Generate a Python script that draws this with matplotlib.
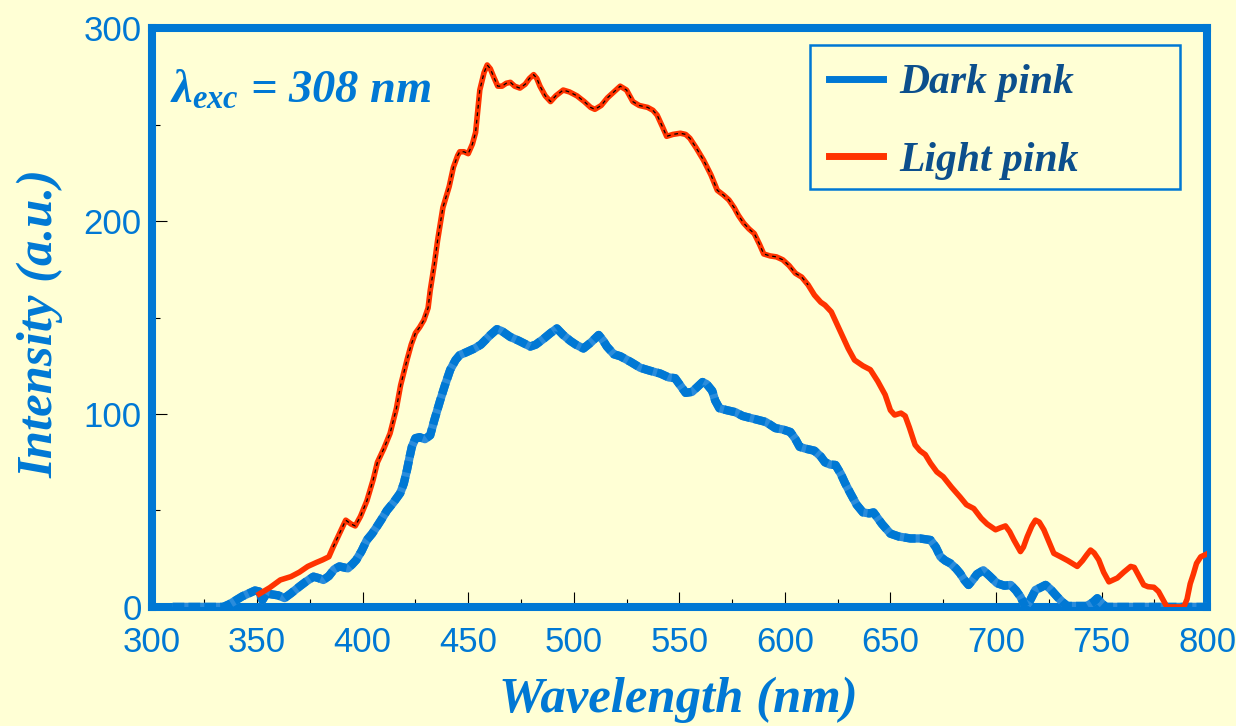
import numpy as np
import matplotlib.pyplot as plt
from matplotlib.patches import Rectangle
from matplotlib.ticker import MultipleLocator

# ---------------- data ----------------
light_x = [351, 356, 361, 366, 370, 374, 378, 381, 384, 386, 389, 392, 394.5, 396.5, 399,
           402, 405, 407, 410, 413, 416, 418, 421, 423, 425, 427, 429, 431, 432, 434,
           435.5, 438, 441, 443, 445, 446, 448, 450, 452, 453.5, 455.5, 457.5, 459, 460.5, 462,
           464, 466, 468, 470, 472, 474.5, 477, 479, 481, 482.5, 484, 486.5, 489, 491.5, 495,
           498, 501.5, 505, 508, 510, 513, 516, 519, 522, 525, 528, 531, 535, 537.5, 539.5,
           542, 544, 547, 550.5, 553, 555, 558, 561.5, 565, 568, 571, 573.5, 576, 578, 580.5,
           583, 585.5, 588, 590, 593, 596, 599, 602, 605, 608, 611, 614, 617, 619, 622,
           626, 630, 633, 637, 640.5, 644, 647.5, 650, 652, 655, 657, 659, 661.7, 664, 666.5,
           669, 672, 675, 679, 683, 686, 689.5, 693, 695.8, 699.8, 702, 704.5, 706.5, 708.5, 711.6,
           713, 714.8, 717, 718.7, 720.5, 722.7, 725, 727.4, 730.6, 734, 738.5, 741, 743, 744.8, 746.5,
           748.7, 751, 753.5, 757.5, 760.5, 763.8, 765.5, 767, 770, 772, 774.8, 777, 779, 781, 785,
           789, 790.5, 792, 793.5, 795, 797, 799, 800]
light_y = [6.7, 10, 14, 15.7, 18, 21, 23, 24.4, 26, 31, 38, 45, 43, 42, 47,
           55, 66, 75, 82, 90, 103, 115, 128, 136, 142, 145, 148.7, 155, 164, 178,
           190, 207, 218, 228, 234, 236, 236, 235, 240, 246, 268, 277, 281, 279, 275,
           270, 270, 271.5, 272, 270, 269, 271, 274, 276, 274, 270, 265, 262, 265, 268,
           267, 265, 262, 259, 258, 260, 264, 267, 270, 268, 262, 260, 259, 257.5, 255,
           249, 244, 245, 245.6, 245, 243, 238, 231.6, 224, 216, 213.5, 211, 207, 203, 199,
           196, 193.6, 188, 183, 182, 181.5, 180, 177, 173, 171, 167, 161.7, 158, 156.5, 153,
           143.5, 134, 128, 125, 123, 117, 110, 102, 99.5, 100.5, 99, 93, 84, 81, 79,
           74.5, 70, 67.5, 62, 57, 53, 51, 46, 43, 40, 41, 42, 39, 34.7, 28.7,
           31, 36.4, 42, 45, 44, 40, 34, 27.8, 26, 24, 21, 24, 27, 29.5, 28,
           24.4, 18, 13, 15, 18, 21, 20.5, 17.5, 11.4, 10.5, 10.2, 8, 4, 0, 0,
           0, 4, 12, 17, 22.6, 26, 27, 27.5]

dark_x = [310, 315, 320, 325, 330, 334, 337, 340, 343, 346, 349, 351, 352.5, 354.5, 357,
          360, 363, 366, 370, 373, 376.7, 379, 381.4, 384, 386.5, 389, 391, 393, 395, 397,
          399.5, 402, 404.5, 406.7, 409, 411.5, 414.5, 417.8, 419.5, 421, 422.3, 423.3, 425, 427, 429.5,
          432, 434, 436.7, 439, 441.5, 444, 446, 449, 453, 456, 460.5, 463.6, 466, 469.9, 474,
          479.4, 482, 485.7, 489, 492, 495, 498.3, 501, 504.6, 508, 511.8, 514, 515.7, 519, 522,
          527, 531.5, 536, 541, 545, 548, 551, 553, 556, 558, 561, 563, 565.6, 567, 569,
          572.5, 576.5, 580, 583.6, 587, 590.7, 593, 595.5, 599, 602.6, 605, 607, 610, 614, 617,
          619, 621.5, 624, 626.5, 628.6, 631, 634, 637, 640, 642, 646, 650, 654, 659.5, 664,
          669, 671.5, 673.7, 676, 678.4, 681, 683, 685, 687, 689, 691, 694, 697, 700.5, 704,
          707, 709.5, 711.6, 714, 716, 718.7, 721, 723.5, 726, 729, 731.5, 733.8, 738, 743, 746,
          748, 750, 752, 760, 780, 800]
dark_y = [0, 0, 0, 0, 0, 0, 1.5, 3.5, 5.5, 7, 8.5, 8, 3.5, 7, 6.5,
          6, 4.6, 7, 10.5, 13, 15.7, 15, 14, 16, 19.5, 21, 20.5, 20, 22, 24.4,
          29, 34.7, 38, 41.6, 45.5, 50, 54, 59, 64, 71, 78, 83, 87.5, 88, 87,
          89, 97, 107, 115, 123, 128, 130.6, 132, 134, 136, 141, 144, 143, 140, 138,
          135, 136, 139, 142, 144.4, 141, 138, 136, 134, 137, 141, 138, 135, 131, 130,
          127, 124, 122.5, 121, 119, 118.6, 114, 111, 111.5, 113.5, 116.6, 115.5, 112, 107, 103,
          102, 101, 99, 98, 97, 96, 94.5, 92.7, 92, 90.7, 87, 83, 82, 81, 78,
          75, 73.8, 73.6, 69, 64, 59, 53, 49, 48.5, 49, 43, 38, 36.5, 35.5, 35.5,
          34.7, 31, 26, 24, 22.6, 20, 17.4, 14, 11.4, 14, 17, 19, 16, 12.3, 11,
          11.4, 8.5, 5.3, 0, 3, 8.8, 10, 11.4, 9, 5.3, 2.5, 0.5, 0.5, 0.5, 2.5,
          4.5, 2, 0, 0, 0, 0]

labels = ["Dark pink", "Light pink"]

# ---------------- style ----------------
bg = "#FFFFD5"
blue = "#0078D4"
red = "#FF3300"
navy = "#0C4F8C"
serif_bi = dict(family="Liberation Serif", weight="bold", style="italic")

plt.rcParams["mathtext.fontset"] = "custom"
plt.rcParams["mathtext.it"] = "Liberation Serif:italic:bold"
plt.rcParams["mathtext.rm"] = "Liberation Serif:bold"

fig = plt.figure(figsize=(12.36, 7.26), dpi=100, facecolor=bg)
ax = fig.add_axes([0.1226, 0.164, 0.854, 0.797])
ax.set_facecolor(bg)

# curves (drawn over the thick frame, like the original)
ax.plot(dark_x, dark_y, color="#2A8CDC", lw=6, zorder=3, solid_capstyle="butt")
ax.plot(dark_x, dark_y, color=blue, lw=6, zorder=3.1, dashes=(1.4, 0.5), label=labels[0])
ax.plot(light_x, light_y, color=red, lw=4, zorder=3.2, label=labels[1])
lx = np.array(light_x)
ly = np.array(light_y)
m = (lx >= 385) & (lx <= 612)
ax.plot(lx[m], ly[m], color="black", lw=0.9, dashes=(3, 3), zorder=3.3)

ax.set_xlim(300, 800)
ax.set_ylim(0, 300)

for s in ax.spines.values():
    s.set_color(blue)
    s.set_linewidth(5.8)

ax.xaxis.set_major_locator(MultipleLocator(50))
ax.xaxis.set_minor_locator(MultipleLocator(25))
ax.yaxis.set_major_locator(MultipleLocator(100))
ax.yaxis.set_minor_locator(MultipleLocator(50))
ax.tick_params(which="both", direction="in", color="black", width=0.8,
               top=False, right=False)
ax.tick_params(which="major", length=11)
ax.tick_params(which="minor", length=6)
ax.tick_params(axis="x", which="major", pad=14, labelsize=25, labelcolor=blue)
ax.tick_params(axis="y", which="major", pad=7, labelsize=25, labelcolor=blue)
for t in ax.get_xticklabels() + ax.get_yticklabels():
    t.set_family("Liberation Sans")

fig.text(678 / 1236, 1 - 700 / 726, "Wavelength (nm)", color=blue, fontsize=36.5,
         ha="center", va="center", **serif_bi)
fig.text(40 / 1236, 1 - 323 / 726, "Intensity (a.u.)", color=blue, fontsize=36.5,
         ha="center", va="center", rotation=90, **serif_bi)

ax.text(0.0175, 0.872, r"$\lambda_{exc}$ = 308 nm", transform=ax.transAxes,
        color=blue, fontsize=33.5, ha="left", va="baseline", **serif_bi)

# legend with its own wide frame
ax.add_patch(Rectangle((0.6239, 0.7219), 0.3505, 0.2487, transform=ax.transAxes,
                       fill=False, edgecolor=blue, lw=1.8, zorder=4))
leg = ax.legend(loc="upper left", bbox_to_anchor=(0.6239, 0.9706), frameon=False,
                borderaxespad=0, borderpad=0.45, handlelength=1.3, handletextpad=0.4,
                labelspacing=0.95, prop=dict(size=30, **serif_bi), labelcolor=navy)
for h, c in zip(leg.legend_handles, [blue, red]):
    h.set_color(c)
    h.set_linewidth(5)
    h.set_linestyle("-")

fig.savefig("out.png", dpi=100, facecolor=bg)
